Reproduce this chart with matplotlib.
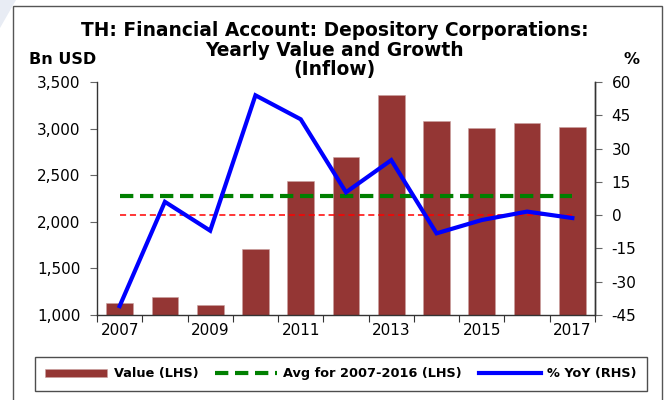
import matplotlib
matplotlib.use("Agg")
import matplotlib.pyplot as plt
import numpy as np
from matplotlib.patches import Rectangle, Polygon

plt.rcParams['font.family'] = ['DejaVu Sans']

# data
years = ["2007", "2008", "2009", "2010", "2011", "2012", "2013", "2014", "2015", "2016", "2017"]
value = [1125, 1193, 1107, 1704, 2440, 2690, 3358, 3079, 3008, 3058, 3015]
yoy = [-41.0, 6.0, -7.0, 54.0, 43.2, 10.3, 24.8, -8.2, -2.2, 1.6, -1.3]
avg_0716 = np.mean(value[:10])
title_lines = ["TH: Financial Account: Depository Corporations:",
               "Yearly Value and Growth", "(Inflow)"]

x = np.arange(len(years))

fig = plt.figure(figsize=(6.69, 4.0), dpi=100)
ax1 = fig.add_axes([97/669, 85/400, 498/669, 233/400])
ax2 = ax1.twinx()

# frame and faint corner mark
fig.patches.append(Rectangle((13/669, -0.01), 649/669, 1 - 6/400 + 0.01, transform=fig.transFigure,
                             fill=False, edgecolor="#555555", linewidth=1.0))
fig.patches.append(Polygon([[0, 1], [16/669, 1], [0, 1 - 28/400]], closed=True,
                           transform=fig.transFigure, facecolor="#e8ecf4", edgecolor="none"))

bars = ax1.bar(x, value, width=0.59, color="#943634", edgecolor="#c9a0a0", linewidth=0.4,
               label="Value (LHS)", zorder=2)
avg_line, = ax1.plot([x[0], x[-1]], [avg_0716, avg_0716], color="#008000", linewidth=3,
                     linestyle=(0, (3.2, 1.6)), label="Avg for 2007-2016 (LHS)", zorder=3)
ax2.plot([x[0], x[-1]], [0, 0], color="red", linewidth=1.1, linestyle=(0, (4, 2.5)), zorder=3)
yoy_line, = ax2.plot(x, yoy, color="blue", linewidth=3, label="% YoY (RHS)",
                     solid_joinstyle="miter", zorder=4)

ax1.set_xlim(-0.5, len(years) - 0.5)
ax1.set_ylim(1000, 3500)
ax1.set_yticks(np.arange(1000, 3501, 500))
ax1.set_yticklabels(["{:,}".format(v) for v in range(1000, 3501, 500)], fontsize=11)
ax2.set_ylim(-45, 60)
ax2.set_yticks(np.arange(-45, 61, 15))
ax2.set_yticklabels([str(v) for v in range(-45, 61, 15)], fontsize=11)

ax1.set_xticks(np.arange(-0.5, len(years), 1.0))
ax1.set_xticklabels([])
ax1.set_xticks(x[::2], minor=True)
ax1.set_xticklabels(years[::2], minor=True, fontsize=11)
ax1.tick_params(axis="x", which="major", length=5, color="#333333")
ax1.tick_params(axis="x", which="minor", length=0, pad=6)
ax1.tick_params(axis="y", length=5, color="#666666", pad=7)
ax2.tick_params(axis="y", length=5, color="#666666", pad=7)

for a in (ax1, ax2):
    a.spines["top"].set_visible(False)
    for s in ("left", "right", "bottom"):
        a.spines[s].set_color("#333333")
        a.spines[s].set_linewidth(1.0)
ax2.spines["left"].set_visible(False)
ax2.spines["bottom"].set_visible(False)

# title, one text per line
for i, line in enumerate(title_lines):
    fig.text(0.5, 1 - (30 + 20 * i)/400, line, ha="center", va="center",
             fontsize=13.4, fontweight="bold")
fig.text(63/669, 1 - 60/400, "Bn USD", ha="center", va="center", fontsize=11.5, fontweight="bold")
fig.text(632/669, 1 - 60/400, "%", ha="center", va="center", fontsize=11.5, fontweight="bold")

leg = fig.legend([bars, avg_line, yoy_line],
                 ["Value (LHS)", "Avg for 2007-2016 (LHS)", "% YoY (RHS)"],
                 loc="center", bbox_to_anchor=(341/669, 1 - 374/400), ncol=3,
                 prop={"weight": "bold", "size": 9.3}, frameon=True, fancybox=False,
                 handlelength=4.8, handleheight=0.5, columnspacing=1.3, handletextpad=0.5,
                 borderpad=0.8)
leg.get_frame().set_edgecolor("#222222")
leg.get_frame().set_linewidth(1.0)

fig.savefig("out.png", dpi=100)
